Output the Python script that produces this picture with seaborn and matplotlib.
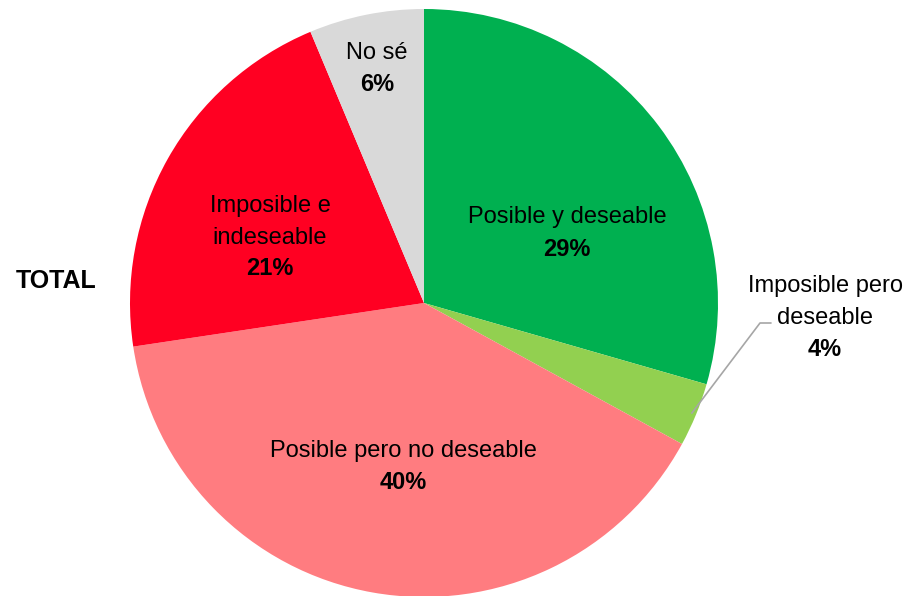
import numpy as np
import matplotlib
matplotlib.use("Agg")
import matplotlib.pyplot as plt
import seaborn as sns

# ---- data ----
categories = ["Posible y deseable", "Imposible pero deseable", "Posible pero no deseable",
              "Imposible e indeseable", "No sé"]
values = [29.46, 3.50, 39.67, 21.06, 6.31]
pct_labels = ["29%", "4%", "40%", "21%", "6%"]
colors = ["#00B050", "#92D050", "#FF7C80", "#FF0022", "#D9D9D9"]
title_label = "TOTAL"

sns.set_theme(style="white")
plt.rcParams["font.family"] = ["Liberation Sans", "DejaVu Sans"]

W, H = 907, 596
fig = plt.figure(figsize=(W / 100, H / 100), dpi=100)
cx, cy, R = 424, 303, 294
ax = fig.add_axes([(cx - R) / W, (H - cy - R) / H, 2 * R / W, 2 * R / H])

wedges, _ = ax.pie(values, colors=colors, startangle=90, counterclock=False, radius=1,
                   wedgeprops=dict(linewidth=0))
ax.set_xlim(-1, 1)
ax.set_ylim(-1, 1)
ax.set_aspect("auto")
ax.axis("off")


def to_data(px, py):
    return (px - cx) / R, (cy - py) / R


FS = 17
# label layout: (centre x px, list of name-line baselines px, pct baseline px)
layout = {
    "Posible y deseable": (567, [("Posible y deseable", 223)], 256),
    "Imposible pero deseable": (825, [("Imposible pero", 292), ("deseable", 324)], 356),
    "Posible pero no deseable": (403, [("Posible pero no deseable", 457)], 489),
    "Imposible e indeseable": (270, [("Imposible e", 212), ("indeseable", 244)], 275),
    "No sé": (377, [("No sé", 59)], 91),
}

for cat, pct in zip(categories, pct_labels):
    xpx, lines, pb = layout[cat]
    for txt, b in lines:
        x, y = to_data(xpx, b)
        ax.text(x, y, txt, ha="center", va="baseline", fontsize=FS, color="black",
                clip_on=False)
    x, y = to_data(xpx, pb)
    ax.text(x, y, pct, ha="center", va="baseline", fontsize=FS, fontweight="bold",
            color="black", clip_on=False)

# leader line for the small slice
w = wedges[1]
mid = np.deg2rad((w.theta1 + w.theta2) / 2)
x0, y0 = np.cos(mid) * 0.985, np.sin(mid) * 0.985
x1, y1 = to_data(760, 323)
x2, y2 = to_data(771, 323)
ax.plot([x0, x1, x2], [y0, y1, y2], color="#A6A6A6", linewidth=1.2, clip_on=False)

tx, ty = to_data(56, 288)
ax.text(tx, ty, title_label, ha="center", va="baseline", fontsize=18, fontweight="bold",
        color="black", clip_on=False)

fig.savefig("out.png", dpi=100)
